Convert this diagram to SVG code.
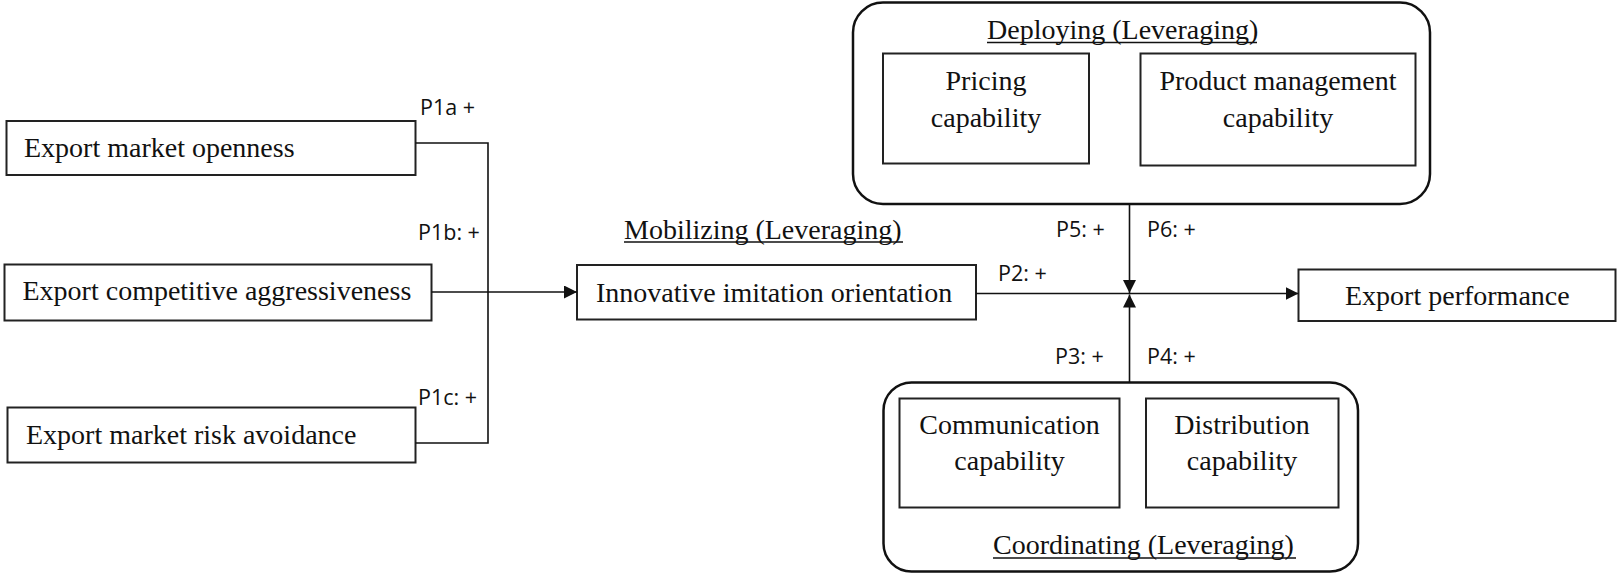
<svg xmlns="http://www.w3.org/2000/svg" width="1619" height="573" viewBox="0 0 1619 573">
  <style>
    .box { fill: #fff; stroke: #222; stroke-width: 2; }
    .group { fill: none; stroke: #111; stroke-width: 2.5; }
    .t { font-family: "Liberation Serif", "Times New Roman", serif; font-size: 28px; fill: #111; }
    .ul { stroke: #111; stroke-width: 1.5; }
    .lbl { font-family: "Open Sans", "Liberation Sans", sans-serif; font-size: 21.5px; fill: #111; }
    .edge { fill: none; stroke: #111; stroke-width: 1.6; }
  </style>
  <defs>
    <marker id="arrow" markerUnits="userSpaceOnUse" markerWidth="14" markerHeight="14" refX="13" refY="6.5" orient="auto">
      <path d="M0,0 L13,6.5 L0,13 Z" fill="#111"/>
    </marker>
  </defs>
  <rect width="1619" height="573" fill="#fff"/>

  <!-- antecedents -->
  <g id="node-openness">
    <rect class="box" x="6.5" y="121" width="409" height="54"/>
    <text class="t" x="24" y="157">Export market openness</text>
  </g>
  <g id="node-aggressiveness">
    <rect class="box" x="4.5" y="264.5" width="427" height="56"/>
    <text class="t" x="22.5" y="300">Export competitive aggressiveness</text>
  </g>
  <g id="node-risk">
    <rect class="box" x="7.5" y="407.5" width="408" height="55"/>
    <text class="t" x="26" y="443.5">Export market risk avoidance</text>
  </g>

  <!-- mobilizing -->
  <g id="node-innovative">
    <text class="t" x="624" y="238.5">Mobilizing (Leveraging)</text>
    <line class="ul" x1="624" y1="242" x2="903" y2="242"/>
    <rect class="box" x="577" y="265" width="399" height="54.5"/>
    <text class="t" x="596" y="301.5">Innovative imitation orientation</text>
  </g>

  <!-- outcome -->
  <g id="node-performance">
    <rect class="box" x="1298.5" y="269.5" width="317" height="51.5"/>
    <text class="t" x="1345" y="305">Export performance</text>
  </g>

  <!-- deploying -->
  <g id="node-deploying">
    <rect class="group" x="853" y="2.5" width="577" height="201.5" rx="30" ry="30"/>
    <text class="t" x="987" y="38.5">Deploying (Leveraging)</text>
    <line class="ul" x1="987" y1="42.5" x2="1257" y2="42.5"/>
    <g id="node-pricing">
      <rect class="box" x="883" y="53.5" width="206" height="110"/>
      <text class="t" x="986" y="90" text-anchor="middle">Pricing</text>
      <text class="t" x="986" y="126.5" text-anchor="middle">capability</text>
    </g>
    <g id="node-product">
      <rect class="box" x="1140.5" y="53.5" width="275" height="112"/>
      <text class="t" x="1278" y="90" text-anchor="middle">Product management</text>
      <text class="t" x="1278" y="126.5" text-anchor="middle">capability</text>
    </g>
  </g>

  <!-- coordinating -->
  <g id="node-coordinating">
    <rect class="group" x="883.5" y="382.5" width="474.5" height="189" rx="28" ry="28"/>
    <g id="node-communication">
      <rect class="box" x="899.5" y="398.5" width="220" height="109"/>
      <text class="t" x="1009.5" y="434" text-anchor="middle">Communication</text>
      <text class="t" x="1009.5" y="470" text-anchor="middle">capability</text>
    </g>
    <g id="node-distribution">
      <rect class="box" x="1146" y="398.5" width="192.5" height="109"/>
      <text class="t" x="1242" y="434" text-anchor="middle">Distribution</text>
      <text class="t" x="1242" y="470" text-anchor="middle">capability</text>
    </g>
    <text class="t" x="993" y="554">Coordinating (Leveraging)</text>
    <line class="ul" x1="993" y1="558" x2="1296" y2="558"/>
  </g>

  <!-- connectors -->
  <g id="connectors">
    <path class="edge" d="M415.5,143 H488 V443 H415.5"/>
    <path class="edge" d="M431.5,292 H577" marker-end="url(#arrow)"/>
    <path class="edge" d="M976,293.5 H1298.5" marker-end="url(#arrow)"/>
    <path class="edge" d="M1129.5,204 V293" marker-end="url(#arrow)"/>
    <path class="edge" d="M1129.5,382.5 V294.5" marker-end="url(#arrow)"/>
  </g>

  <!-- path labels -->
  <g id="labels">
    <text class="lbl" x="420" y="115">P1a +</text>
    <text class="lbl" x="418" y="240">P1b: +</text>
    <text class="lbl" x="418" y="405">P1c: +</text>
    <text class="lbl" x="998" y="281">P2: +</text>
    <text class="lbl" x="1056" y="237">P5: +</text>
    <text class="lbl" x="1147" y="237">P6: +</text>
    <text class="lbl" x="1055" y="364">P3: +</text>
    <text class="lbl" x="1147" y="364">P4: +</text>
  </g>
</svg>
